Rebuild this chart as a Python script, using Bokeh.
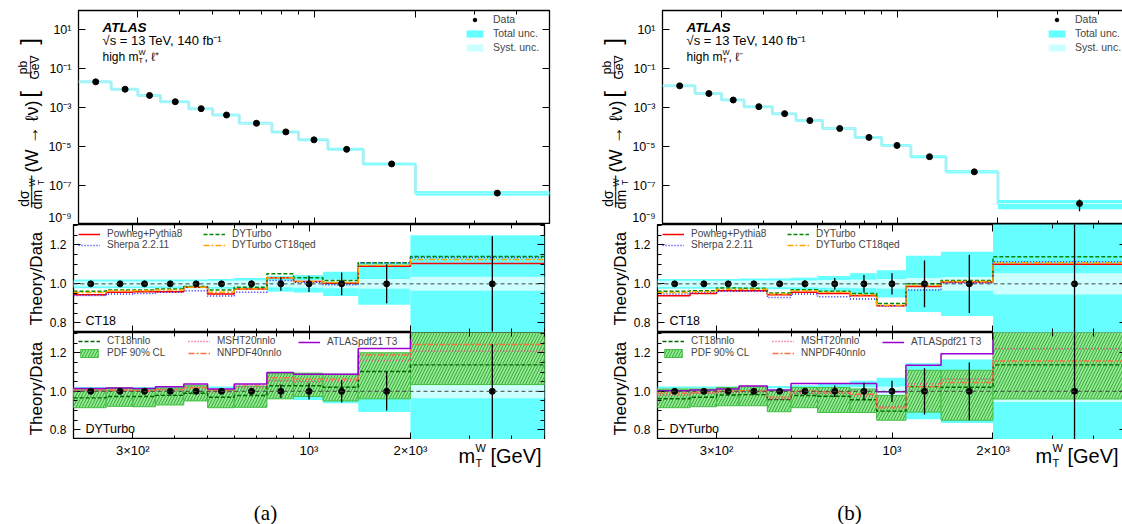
import numpy as np
from bokeh.plotting import figure
from bokeh.models import (Range1d, FixedTicker, LogAxis, LinearAxis, Span, Label,
                          Legend, LegendItem, CustomJSTickFormatter)
from bokeh.layouts import row, column
from bokeh.embed import file_html
from bokeh.resources import INLINE

FONT = "Liberation Sans"

# ---------------- data ----------------
edges = [200, 250, 300, 350, 425, 500, 600, 750, 900, 1100, 1400, 2000, 5000]
centers = [225, 275, 325, 387.5, 462.5, 550, 675, 825, 1000, 1250, 1700, 3500]
ratio_data = [1.0] * 12

x_tick_vals = [300, 1000, 2000]
x_tick_labels = ["3×10²", "10³", "2×10³"]
x_minor_vals = [200, 400, 500, 600, 700, 800, 900, 3000, 4000, 5000]
y_main_ticks = [1e-9, 1e-7, 1e-5, 1e-3, 1e-1, 1e1]
ratio_ticks = [0.8, 1.0, 1.2]
ratio_minor = [0.75, 0.85, 0.9, 0.95, 1.05, 1.1, 1.15, 1.25, 1.3]

# panel (a): l+
xsec_a = [2.15e-2, 9.0e-3, 4.3e-3, 2.05e-3, 9.0e-4, 4.25e-4, 1.6e-4, 5.75e-5, 2.25e-5, 7.3e-6, 1.3e-6, 4.1e-8]
stat_a = [0.004, 0.005, 0.006, 0.007, 0.009, 0.012, 0.017, 0.035, 0.042, 0.058, 0.10, 0.245]
tot_a = [0.022, 0.022, 0.022, 0.022, 0.023, 0.025, 0.03, 0.04, 0.045, 0.062, 0.108, 0.25]
syst_a = [0.014, 0.014, 0.014, 0.014, 0.015, 0.016, 0.017, 0.018, 0.02, 0.022, 0.025, 0.036]
powheg_a = [0.944, 0.957, 0.96, 0.96, 0.983, 0.948, 0.974, 1.031, 1.012, 1.003, 1.09, 1.104]
sherpa_a = [0.94, 0.948, 0.951, 0.957, 0.965, 0.937, 0.957, 1.017, 1.008, 0.995, 1.108, 1.135]
dyturbo_a = [0.962, 0.969, 0.969, 0.974, 0.986, 0.969, 0.983, 1.052, 1.031, 1.017, 1.108, 1.141]
ct18qed_a = [0.955, 0.965, 0.965, 0.969, 0.983, 0.957, 0.974, 1.031, 1.012, 1.007, 1.096, 1.125]
ct18nnlo_a = [0.966, 0.973, 0.973, 0.979, 0.99, 0.969, 0.978, 1.029, 1.029, 1.021, 1.103, 1.137]
msht_a = [1.003, 1.003, 1.0, 1.007, 1.017, 0.997, 1.02, 1.055, 1.051, 1.055, 1.16, 1.209]
nnpdf_a = [1.009, 1.007, 1.005, 1.01, 1.02, 1.007, 1.032, 1.07, 1.063, 1.063, 1.188, 1.243]
atlaspdf_a = [1.015, 1.017, 1.015, 1.024, 1.038, 1.012, 1.038, 1.097, 1.089, 1.089, 1.222, 1.40]
pdf_lo_a = [0.915, 0.922, 0.92, 0.929, 0.95, 0.915, 0.917, 0.961, 0.973, 0.95, 0.961, 1.035]
pdf_hi_a = [1.012, 1.017, 1.012, 1.017, 1.029, 1.007, 1.026, 1.092, 1.094, 1.089, 1.20, 1.33]

# panel (b): l-
xsec_b = [1.34e-2, 5.4e-3, 2.5e-3, 1.14e-3, 5.0e-4, 2.2e-4, 8.6e-5, 3.0e-5, 1.16e-5, 3.05e-6, 5.1e-7, 1.2e-8]
stat_b = [0.004, 0.005, 0.007, 0.008, 0.012, 0.018, 0.03, 0.045, 0.055, 0.12, 0.15, 0.6]
tot_b = [0.025, 0.025, 0.025, 0.027, 0.028, 0.032, 0.04, 0.055, 0.07, 0.145, 0.165, 0.5]
syst_b = [0.016, 0.016, 0.016, 0.017, 0.017, 0.018, 0.02, 0.022, 0.025, 0.03, 0.035, 0.055]
powheg_b = [0.939, 0.951, 0.965, 0.965, 0.944, 0.957, 0.951, 0.939, 0.887, 0.986, 1.009, 1.101]
sherpa_b = [0.948, 0.955, 0.962, 0.962, 0.93, 0.948, 0.934, 0.922, 0.887, 0.969, 1.005, 1.113]
dyturbo_b = [0.962, 0.965, 0.979, 0.977, 0.953, 0.97, 0.962, 0.951, 0.899, 1.0, 1.017, 1.139]
ct18qed_b = [0.955, 0.96, 0.972, 0.972, 0.948, 0.965, 0.957, 0.944, 0.89, 0.991, 1.012, 1.108]
ct18nnlo_b = [0.961, 0.969, 0.981, 0.983, 0.957, 0.978, 0.974, 0.956, 0.897, 1.024, 1.021, 1.137]
msht_b = [0.98, 0.99, 0.995, 0.998, 0.96, 0.99, 0.99, 0.975, 0.921, 1.038, 1.063, 1.22]
nnpdf_b = [0.99, 0.995, 1.0, 1.003, 0.97, 1.0, 0.998, 0.985, 0.914, 1.024, 1.046, 1.157]
atlaspdf_b = [1.003, 1.007, 1.012, 1.027, 1.007, 1.041, 1.041, 1.041, 0.998, 1.135, 1.195, 1.40]
pdf_lo_b = [0.915, 0.92, 0.925, 0.925, 0.894, 0.915, 0.89, 0.89, 0.85, 0.892, 0.85, 0.96]
pdf_hi_b = [1.012, 1.012, 1.02, 1.024, 1.003, 1.02, 1.02, 1.012, 0.978, 1.109, 1.109, 1.33]

CYAN = "#66FFFF"
LCYAN = "#CCFFFF"

# ---------------- helpers ----------------
x_fmt = CustomJSTickFormatter(args=dict(vals=x_tick_vals, labs=x_tick_labels), code="""
for (let i = 0; i < vals.length; i++) { if (Math.abs(vals[i] - tick) / vals[i] < 1e-6) return labs[i]; }
return "";
""")
y_log_fmt = CustomJSTickFormatter(code="""
const e = Math.round(Math.log10(tick));
const sup = {"-":"\u207b","0":"\u2070","1":"\u00b9","2":"\u00b2","3":"\u00b3","4":"\u2074","5":"\u2075","6":"\u2076","7":"\u2077","8":"\u2078","9":"\u2079"};
return "10" + String(e).split("").map(c => sup[c]).join("");
""")
ratio_fmt = CustomJSTickFormatter(code="return tick.toFixed(1);")
empty_fmt = CustomJSTickFormatter(code="return '';")

LABW = 45          # width of the y-title strip
ROT = np.pi / 2


def style_axis(ax, ticker, fmt=None, fs="12px", standoff=6, tick_in=7, minor_in=4):
    ax.ticker = ticker
    ax.axis_line_color = None
    ax.major_tick_in = tick_in
    ax.major_tick_out = 0
    ax.minor_tick_in = minor_in
    ax.minor_tick_out = 0
    ax.major_tick_line_color = "black"
    ax.minor_tick_line_color = "black"
    ax.axis_label = None
    if fmt is not None:
        ax.formatter = fmt
        ax.major_label_text_font = FONT
        ax.major_label_text_font_size = fs
        ax.major_label_text_color = "black"
        ax.major_label_standoff = standoff
    else:
        ax.formatter = empty_fmt
        ax.major_label_text_font_size = "0px"
        ax.major_label_standoff = 0


def xticker():
    return FixedTicker(ticks=x_tick_vals, minor_ticks=x_minor_vals)


def lab(p, text, x, y, size, align="left", baseline="middle", angle=0.0, style="normal", font=FONT):
    p.add_layout(Label(x=x, y=y, x_units="screen", y_units="screen", text=text,
                       text_font=font, text_font_size=f"{size}px", text_align=align,
                       text_baseline=baseline, angle=angle, text_font_style=style,
                       text_color="black"))


def step_y(v):
    return list(v) + [v[-1]]


def make_fig(xr, yr, ytype, fw, fh, right, top, bottom):
    p = figure(x_axis_type="log", y_axis_type=ytype, x_range=xr, y_range=yr,
               frame_width=fw, frame_height=fh, min_border_left=73 - LABW, min_border_right=right,
               min_border_top=top, min_border_bottom=bottom, toolbar_location=None,
               output_backend="svg", background_fill_color="white", border_fill_color="white")
    p.grid.visible = False
    p.outline_line_color = "black"
    p.outline_line_width = 1.3
    return p


def text_fig(w, h):
    p = figure(x_range=Range1d(0, 1), y_range=Range1d(0, 1), frame_width=w, frame_height=h,
               min_border=0, x_axis_location=None, y_axis_location=None,
               toolbar_location=None, output_backend="svg", outline_line_color=None)
    p.grid.visible = False
    return p


def make_panel(xsec, stat, tot, syst, powheg, sherpa, dyturbo, ct18qed,
               ct18nnlo, msht, nnpdf, atlaspdf, pdf_lo, pdf_hi, lepton, tag, fw, right, xlab_shift):
    xsec = np.array(xsec); stat = np.array(stat); tot = np.array(tot); syst = np.array(syst)
    xr = Range1d(200, 5000)
    L, R = edges[:-1], edges[1:]

    # ---- main panel ----
    pm = make_fig(xr, Range1d(1e-9, 1e2), "log", fw, 214, right, 10, 0)
    style_axis(pm.yaxis[0], FixedTicker(ticks=y_main_ticks, minor_ticks=[]), y_log_fmt, "12.5px", 7)
    style_axis(pm.xaxis[0], xticker())
    ax = LogAxis(); style_axis(ax, xticker()); pm.add_layout(ax, "above")
    ay = LogAxis(); style_axis(ay, FixedTicker(ticks=y_main_ticks, minor_ticks=[])); pm.add_layout(ay, "right")

    pm.step(edges, step_y(xsec), mode="after", line_color="#A4F1F6", line_width=3)
    r_tot = pm.quad(left=L, right=R, bottom=xsec * (1 - tot), top=xsec * (1 + tot), fill_color=CYAN, line_color=None)
    r_sys = pm.quad(left=L, right=R, bottom=xsec * (1 - syst), top=xsec * (1 + syst), fill_color=LCYAN, line_color=None)
    pm.segment(centers, xsec * (1 - stat), centers, xsec * (1 + stat), line_color="black", line_width=1.3)
    r_dat = pm.scatter(centers, xsec, size=6, color="black")
    leg = Legend(items=[LegendItem(label="Data", renderers=[r_dat]),
                        LegendItem(label="Total unc.", renderers=[r_tot]),
                        LegendItem(label="Syst. unc.", renderers=[r_sys])],
                 location=(fw - 85, 171), glyph_width=21, glyph_height=9, label_height=9,
                 spacing=2, padding=0, margin=0, label_standoff=8,
                 background_fill_alpha=0, border_line_alpha=0,
                 label_text_font=FONT, label_text_font_size="10.5px")
    pm.add_layout(leg)

    lab(pm, "ATLAS", 24, 224 - 27, 13.5, style="bold italic")
    lab(pm, "√s = 13 TeV, 140 fb⁻¹", 24, 224 - 39.5, 13)
    lab(pm, "high m", 24, 224 - 56, 12)
    lab(pm, "W", 60, 224 - 52, 7.5)
    lab(pm, "T", 60, 224 - 60, 7.5)
    lab(pm, ", ℓ" + lepton, 66, 224 - 56, 12)

    # y-title strip for the main panel
    tm = text_fig(LABW, 224)
    lab(tm, "dσ", 23, 224 - 188, 14, align="center", angle=ROT)
    lab(tm, "\u2014\u2014", 30, 224 - 181, 16, align="center", angle=ROT)
    lab(tm, "dm", 36.5, 224 - 189, 14, align="center", angle=ROT)
    lab(tm, "W", 31.5, 224 - 172, 8.5, align="center", angle=ROT)
    lab(tm, "T", 40, 224 - 172, 8.5, align="center", angle=ROT)
    lab(tm, "(W → ℓν)", 31, 224 - 126, 18, align="center", angle=ROT)
    lab(tm, "pb", 22, 224 - 57, 12, align="center", angle=ROT)
    lab(tm, "\u2014\u2014", 28, 224 - 57, 11, align="center", angle=ROT)
    lab(tm, "GeV", 34, 224 - 57, 12, align="center", angle=ROT)
    lab(tm, "[", 28, 224 - 84, 24, align="center", angle=ROT)
    lab(tm, "]", 28, 224 - 31, 24, align="center", angle=ROT)

    # ---- ratio 1 (CT18) ----
    p1 = make_fig(xr, Range1d(0.75, 1.305), "linear", fw, 108, right, 0, 0)
    style_axis(p1.yaxis[0], FixedTicker(ticks=ratio_ticks, minor_ticks=ratio_minor), ratio_fmt, "12px", 7)
    style_axis(p1.xaxis[0], xticker())
    ax = LogAxis(); style_axis(ax, xticker()); p1.add_layout(ax, "above")
    ay = LinearAxis(); style_axis(ay, FixedTicker(ticks=ratio_ticks, minor_ticks=ratio_minor)); p1.add_layout(ay, "right")

    p1.quad(left=L, right=R, bottom=1 - tot, top=1 + tot, fill_color=CYAN, line_color=None)
    p1.quad(left=L, right=R, bottom=1 - syst, top=1 + syst, fill_color=LCYAN, line_color=None)
    r_pw = p1.step(edges, step_y(powheg), mode="after", line_color="#FF0000", line_width=1.5)
    r_sh = p1.step(edges, step_y(sherpa), mode="after", line_color="#2020FF", line_width=1.5, line_dash="1 2")
    r_dy = p1.step(edges, step_y(dyturbo), mode="after", line_color="#008800", line_width=1.5, line_dash="4 2")
    r_qe = p1.step(edges, step_y(ct18qed), mode="after", line_color="#FFA500", line_width=1.5, line_dash="6 2 2 2")
    p1.add_layout(Span(location=1.0, dimension="width", line_color="#444444", line_dash="4 3", line_width=1))
    p1.segment(centers, 1 - stat, centers, 1 + stat, line_color="black", line_width=1.3)
    p1.scatter(centers, ratio_data, size=6, color="black")
    for items, vx in (([("Powheg+Pythia8", r_pw), ("Sherpa 2.2.11", r_sh)], 5),
                      ([("DYTurbo", r_dy), ("DYTurbo CT18qed", r_qe)], 130)):
        p1.add_layout(Legend(items=[LegendItem(label=t, renderers=[r]) for t, r in items],
                             location=(vx, 82), glyph_width=22, glyph_height=10, label_height=10,
                             spacing=0, padding=0, margin=0, label_standoff=7,
                             background_fill_alpha=0, border_line_alpha=0,
                             label_text_font=FONT, label_text_font_size="10px"))
    lab(p1, "CT18", 12, 332 - 320, 12.5)
    t1 = text_fig(LABW, 108)
    lab(t1, "Theory/Data", 36, 332 - 278, 17, align="center", angle=ROT)

    # ---- ratio 2 (DYTurbo) ----
    p2 = make_fig(xr, Range1d(0.75, 1.305), "linear", fw, 107, right, 0, 0)
    style_axis(p2.yaxis[0], FixedTicker(ticks=ratio_ticks, minor_ticks=ratio_minor), ratio_fmt, "12px", 7)
    style_axis(p2.xaxis[0], xticker())
    ax = LogAxis(); style_axis(ax, xticker()); p2.add_layout(ax, "above")
    ay = LinearAxis(); style_axis(ay, FixedTicker(ticks=ratio_ticks, minor_ticks=ratio_minor)); p2.add_layout(ay, "right")

    p2.quad(left=L, right=R, bottom=1 - tot, top=1 + tot, fill_color=CYAN, line_color=None)
    p2.quad(left=L, right=R, bottom=1 - syst, top=1 + syst, fill_color=LCYAN, line_color=None)
    r_band = p2.quad(left=L, right=R, bottom=pdf_lo, top=pdf_hi, fill_color="#90E890",
                     hatch_pattern="/", hatch_color="#3CAA3C", hatch_scale=6, hatch_weight=1,
                     line_color="#44C044", line_width=1)
    r_ct = p2.step(edges, step_y(ct18nnlo), mode="after", line_color="#006400", line_width=1.4, line_dash="4 2")
    r_ms = p2.step(edges, step_y(msht), mode="after", line_color="#FF3388", line_width=1.4, line_dash="1 2")
    r_nn = p2.step(edges, step_y(nnpdf), mode="after", line_color="#FF7040", line_width=1.4, line_dash="6 2 2 2")
    r_at = p2.step(edges, step_y(atlaspdf), mode="after", line_color="#9A00D0", line_width=1.5)
    p2.add_layout(Span(location=1.0, dimension="width", line_color="#444444", line_dash="4 3", line_width=1))
    p2.segment(centers, 1 - stat, centers, 1 + stat, line_color="black", line_width=1.3)
    p2.scatter(centers, ratio_data, size=6, color="black")
    for items, vx, vy in (([("CT18nnlo", r_ct), ("PDF 90% CL", r_band)], 5, 81),
                          ([("MSHT20nnlo", r_ms), ("NNPDF40nnlo", r_nn)], 115, 81),
                          ([("ATLASpdf21 T3", r_at)], 225, 92)):
        p2.add_layout(Legend(items=[LegendItem(label=t, renderers=[r]) for t, r in items],
                             location=(vx, vy), glyph_width=22, glyph_height=10, label_height=10,
                             spacing=1, padding=0, margin=0, label_standoff=7,
                             background_fill_alpha=0, border_line_alpha=0,
                             label_text_font=FONT, label_text_font_size="10px"))
    lab(p2, "DYTurbo", 12, 439 - 428, 12.5)
    t2 = text_fig(LABW, 107)
    lab(t2, "Theory/Data", 36, 439 - 388, 17, align="center", angle=ROT)

    # ---- bottom strip: x tick labels, x title, caption ----
    pc = figure(x_axis_type="log", x_range=xr, y_range=Range1d(0, 1), frame_width=fw, frame_height=85,
                min_border_left=73, min_border_right=right, min_border_top=0, min_border_bottom=0,
                x_axis_location="above", y_axis_location=None, toolbar_location=None,
                output_backend="svg", outline_line_color=None)
    pc.grid.visible = False
    style_axis(pc.xaxis[0], FixedTicker(ticks=x_tick_vals, minor_ticks=[]), x_fmt, "13px", -18,
               tick_in=0, minor_in=0)
    lab(pc, "m", fw - 91 + xlab_shift, 524 - 455, 20)
    lab(pc, "W", fw - 74 + xlab_shift, 524 - 447, 11)
    lab(pc, "T", fw - 74 + xlab_shift, 524 - 462, 11)
    lab(pc, "[GeV]", fw - 59 + xlab_shift, 524 - 455, 20)
    lab(pc, tag, 192, 524 - 512, 21, align="center", font="Liberation Serif")

    return column(row(tm, pm, spacing=0), row(t1, p1, spacing=0), row(t2, p2, spacing=0), pc, spacing=0)


col_a = make_panel(xsec_a, stat_a, tot_a, syst_a, powheg_a, sherpa_a, dyturbo_a, ct18qed_a,
                   ct18nnlo_a, msht_a, nnpdf_a, atlaspdf_a, pdf_lo_a, pdf_hi_a, "⁺", "(a)", 471, 35, 5)
col_b = make_panel(xsec_b, stat_b, tot_b, syst_b, powheg_b, sherpa_b, dyturbo_b, ct18qed_b,
                   ct18nnlo_b, msht_b, nnpdf_b, atlaspdf_b, pdf_lo_b, pdf_hi_b, "⁻", "(b)", 469, 1, 0)

layout = row(col_a, col_b, spacing=0)
open("out.html", "w").write(file_html(layout, INLINE))
